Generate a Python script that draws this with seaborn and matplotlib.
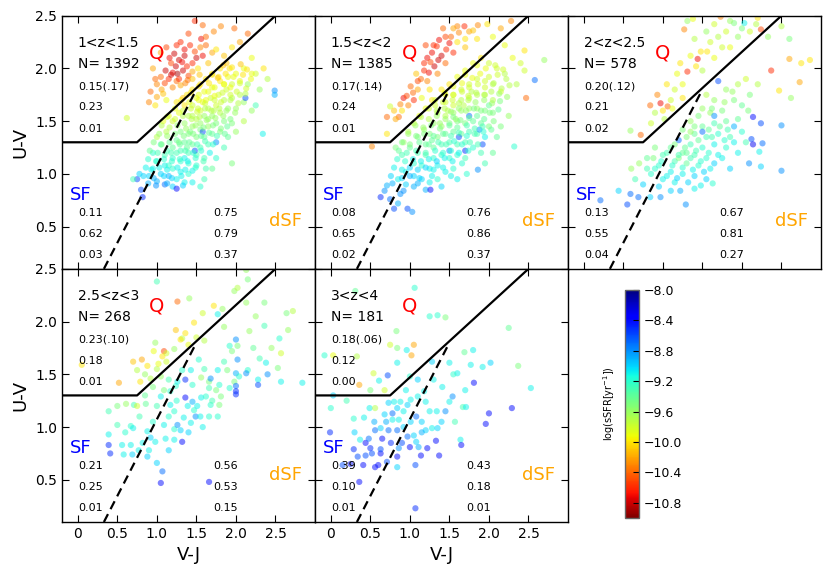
import matplotlib
matplotlib.use("Agg")
import matplotlib.pyplot as plt
import numpy as np
import pandas as pd
import seaborn as sns

# ---------------- data ----------------
PANEL_LABELS = ['1<z<1.5', '1.5<z<2', '2<z<2.5', '2.5<z<3', '3<z<4']
PANEL_N = [1392, 1385, 578, 268, 181]
Q_F1 = ['0.15(.17)', '0.17(.14)', '0.20(.12)', '0.23(.10)', '0.18(.06)']
Q_F2 = ['0.23', '0.24', '0.21', '0.18', '0.12']
Q_F3 = ['0.01', '0.01', '0.02', '0.01', '0.00']
SF_F1 = ['0.11', '0.08', '0.13', '0.21', '0.39']
SF_F2 = ['0.62', '0.65', '0.55', '0.25', '0.10']
SF_F3 = ['0.03', '0.02', '0.04', '0.01', '0.01']
DSF_F1 = ['0.75', '0.76', '0.67', '0.56', '0.43']
DSF_F2 = ['0.79', '0.86', '0.81', '0.53', '0.18']
DSF_F3 = ['0.37', '0.37', '0.27', '0.15', '0.01']

# quiescent selection boundary and dusty-SF separator (V-J, U-V vertices)
Q_BOX_VJ = [-0.2, 0.75, 2.5]
Q_BOX_UV = [1.3, 1.3, 2.5]
DSF_VJ = [0.33, 1.5]
DSF_UV = [0.1, 1.8]

X_TICKS = [0, 0.5, 1.0, 1.5, 2.0, 2.5]
X_TICKLABELS = ['0', '0.5', '1.0', '1.5', '2.0', '2.5']
Y_TICKS = [0.5, 1.0, 1.5, 2.0, 2.5]
CBAR_TICKS = [-8.0, -8.4, -8.8, -9.2, -9.6, -10.0, -10.4, -10.8]

# (V-J, U-V, log sSFR) (representative subset)
P1 = [(1.48,2.45,-10.6),(1.58,2.41,-10.4),(1.81,2.40,-10.3),(1.98,2.38,-10.4),(2.15,2.33,-10.4),(1.72,2.35,-10.3),
(1.40,2.33,-10.5),(1.56,2.28,-10.7),(1.30,2.25,-10.6),(1.62,2.22,-10.4),(1.22,2.14,-10.8),(1.35,2.18,-10.7),
(1.50,2.10,-10.8),(1.58,2.12,-10.7),(1.45,2.05,-10.6),(1.28,2.08,-10.8),(1.18,2.05,-10.5),(1.11,1.98,-10.8),
(1.20,1.96,-10.7),(1.26,1.95,-10.9),(1.33,1.98,-10.8),(1.40,1.93,-10.5),(1.15,1.90,-10.6),(1.25,1.88,-10.4),
(1.39,1.89,-10.4),(1.05,1.92,-10.4),(1.30,1.84,-10.2),(1.20,1.82,-10.3),(0.92,1.78,-10.4),(1.00,1.73,-10.2),
(1.08,1.76,-10.1),(0.98,1.65,-10.0),(1.12,1.70,-9.9),(0.90,1.68,-10.3),(1.45,1.97,-10.2),(1.52,2.00,-10.0),
(1.65,2.05,-10.1),(1.70,2.15,-10.2),(1.05,2.15,-10.2),(0.95,2.00,-10.2),(1.35,2.12,-10.8),(1.42,2.22,-10.6),
(0.62,1.53,-9.8),(1.75,2.18,-10.0),(1.85,2.12,-10.1),(1.95,2.20,-10.0),(2.05,2.25,-10.2),(2.20,2.10,-9.9),
(2.35,2.00,-10.0),(2.25,1.95,-9.8),(2.10,2.00,-9.9),(2.40,1.90,-9.7),(2.15,1.85,-9.6),(2.30,1.80,-9.6),
(1.45,1.80,-10.0),(1.55,1.85,-10.0),(1.62,1.90,-10.0),(1.70,1.95,-10.0),(1.80,2.00,-10.0),(1.88,2.05,-10.1),
(1.60,1.78,-9.9),(1.70,1.82,-9.9),(1.80,1.88,-10.0),(1.90,1.92,-9.9),(2.00,1.95,-9.9),(1.50,1.72,-9.9),
(1.58,1.68,-9.9),(1.68,1.72,-9.8),(1.78,1.75,-9.8),(1.88,1.80,-9.8),(1.95,1.85,-9.8),(2.05,1.88,-9.9),
(1.45,1.65,-9.8),(1.55,1.60,-9.8),(1.65,1.62,-9.7),(1.75,1.65,-9.8),(1.85,1.70,-9.7),(1.95,1.72,-9.7),
(2.05,1.75,-9.7),(1.40,1.55,-9.7),(1.50,1.52,-9.7),(1.60,1.55,-9.6),(1.70,1.55,-9.6),(1.80,1.58,-9.7),
(1.90,1.62,-9.6),(2.00,1.62,-9.6),(2.10,1.68,-9.6),(1.35,1.48,-9.6),(1.45,1.45,-9.6),(1.55,1.42,-9.5),
(1.65,1.45,-9.6),(1.75,1.48,-9.5),(1.85,1.50,-9.5),(1.95,1.48,-9.5),(1.30,1.40,-9.5),(1.40,1.38,-9.5),
(1.50,1.35,-9.5),(1.60,1.35,-9.4),(1.70,1.38,-9.4),(1.80,1.40,-9.5),(1.25,1.32,-9.4),(1.35,1.30,-9.4),
(1.45,1.28,-9.4),(1.55,1.25,-9.3),(1.65,1.28,-9.3),(1.20,1.25,-9.4),(1.30,1.22,-9.3),(1.40,1.20,-9.3),
(1.50,1.18,-9.3),(1.60,1.15,-9.3),(1.10,1.18,-9.3),(1.20,1.15,-9.2),(1.30,1.12,-9.2),(1.40,1.10,-9.2),
(1.50,1.08,-9.2),(1.00,1.12,-9.2),(1.10,1.08,-9.1),(1.20,1.05,-9.2),(1.30,1.02,-9.1),(1.40,1.00,-9.2),
(0.95,1.05,-9.1),(1.05,1.00,-9.0),(1.15,0.98,-8.9),(1.25,0.95,-9.1),(1.35,0.92,-9.1),(0.90,0.98,-9.0),
(1.00,0.93,-8.9),(1.10,0.90,-8.7),(1.20,0.88,-9.0),(0.75,0.95,-8.6),(0.80,0.85,-8.6),(0.82,0.78,-8.5),
(0.78,1.00,-9.0),(0.70,0.95,-9.3),(1.25,0.86,-8.4),(1.45,0.92,-9.1),(1.55,0.88,-9.2),(1.60,0.95,-9.3),
(1.70,1.05,-9.4),(1.75,1.15,-9.2),(1.85,1.25,-9.3),(1.90,1.35,-9.4),(2.00,1.40,-9.6),(2.10,1.50,-9.7),
(2.20,1.60,-9.6),(2.25,1.65,-9.3),(2.12,1.72,-8.6),(2.49,1.79,-8.8),(2.49,1.75,-8.9),(2.34,1.38,-9.1),
(1.75,1.30,-8.8),(1.58,1.40,-8.6),(1.48,1.22,-8.6),(1.62,1.05,-9.3),(1.95,1.10,-9.5),(1.05,1.28,-9.3),
(0.95,1.20,-9.2),(1.00,1.35,-9.7),(1.12,1.40,-9.7),(1.20,1.50,-9.8),(1.28,1.58,-9.9),(1.35,1.65,-10.0),
(1.38,1.75,-10.0),(1.15,1.55,-9.9),(1.08,1.50,-9.9),(1.25,1.68,-10.0),(1.33,1.72,-10.1),(2.20,1.95,-9.9),
(1.45,1.55,-9.7),(1.52,1.62,-9.8),(1.62,1.70,-9.9),(1.72,1.60,-9.7),(1.55,1.48,-9.6),(1.65,1.52,-9.6),
(1.42,1.40,-9.5),(1.38,1.25,-9.4),(1.28,1.30,-9.5),(1.18,1.20,-9.3),(1.15,1.08,-9.2),(1.35,1.15,-9.1),
(1.45,1.03,-9.1),(1.85,1.85,-9.9),(1.92,2.00,-10.0),(1.78,1.92,-10.0),
(1.84,2.03,-10.1),(1.95,2.01,-10.0),(2.06,2.04,-10.1),(2.14,1.99,-10.0),
(1.70,1.94,-10.0),(1.77,1.91,-10.1),(1.87,1.95,-10.0),(1.97,1.92,-9.9),(2.09,1.94,-10.0),(2.19,1.90,-9.9),
(1.53,1.83,-10.0),(1.66,1.86,-10.0),(1.73,1.82,-9.9),(1.85,1.85,-9.9),(1.93,1.82,-9.9),(2.05,1.86,-9.8),(2.13,1.81,-9.8),
(1.43,1.77,-10.0),(1.53,1.75,-9.9),(1.65,1.78,-9.9),(1.73,1.74,-9.9),(1.83,1.77,-9.8),(1.93,1.75,-9.8),(2.01,1.78,-9.8),(2.12,1.76,-9.7),
(1.31,1.70,-10.0),(1.41,1.68,-9.9),(1.53,1.70,-9.9),(1.61,1.67,-9.8),(1.73,1.70,-9.8),(1.81,1.68,-9.8),(1.93,1.70,-9.7),(2.03,1.67,-9.7),
(1.23,1.62,-9.9),(1.33,1.60,-9.8),(1.43,1.62,-9.8),(1.51,1.59,-9.8),(1.61,1.62,-9.7),(1.69,1.60,-9.7),(1.79,1.62,-9.7),(1.88,1.60,-9.6),(1.99,1.58,-9.6),
(1.13,1.54,-9.8),(1.23,1.52,-9.8),(1.33,1.55,-9.7),(1.44,1.52,-9.7),(1.54,1.54,-9.7),(1.63,1.51,-9.6),(1.74,1.53,-9.6),(1.84,1.55,-9.6),(1.93,1.52,-9.5),
(1.06,1.46,-9.7),(1.16,1.44,-9.7),(1.26,1.46,-9.6),(1.37,1.43,-9.6),(1.49,1.46,-9.6),(1.59,1.44,-9.5),(1.71,1.46,-9.5),(1.81,1.43,-9.5),(1.89,1.45,-9.4),
(1.03,1.38,-9.6),(1.13,1.36,-9.6),(1.23,1.38,-9.5),(1.34,1.36,-9.5),(1.46,1.38,-9.5),(1.56,1.36,-9.4),(1.66,1.39,-9.4),(1.76,1.36,-9.3),(1.86,1.38,-9.4),
(0.96,1.30,-9.5),(1.06,1.28,-9.5),(1.16,1.30,-9.4),(1.29,1.28,-9.4),(1.41,1.30,-9.4),(1.51,1.28,-9.3),(1.61,1.31,-9.3),(1.71,1.28,-9.2),
(0.91,1.22,-9.4),(1.01,1.20,-9.3),(1.13,1.22,-9.3),(1.25,1.20,-9.3),(1.36,1.22,-9.3),(1.46,1.20,-9.2),(1.56,1.22,-9.2),(1.67,1.20,-9.1),
(0.89,1.14,-9.2),(0.99,1.12,-9.2),(1.09,1.14,-9.2),(1.19,1.12,-9.2),(1.29,1.14,-9.2),(1.39,1.12,-9.1),(1.49,1.15,-9.2),(1.59,1.12,-9.3),
(0.86,1.06,-9.1),(0.93,1.04,-9.1),(1.03,1.06,-9.1),(1.13,1.04,-9.1),(1.26,1.06,-9.1),(1.36,1.04,-9.1),(1.49,1.06,-9.2),
(0.83,0.98,-9.0),(0.96,0.96,-8.9),(1.09,0.98,-9.0),(1.19,0.96,-9.0),(1.31,0.98,-9.1),
(0.89,0.91,-8.9),(0.99,0.89,-8.8),(1.13,0.91,-8.9),(1.33,0.89,-9.0),
(1.16,2.10,-10.7),(1.24,2.02,-10.8),(1.32,2.06,-10.7),(1.38,2.02,-10.6),(1.10,1.86,-10.5),(1.18,1.94,-10.8),
(1.28,1.90,-10.6),(1.36,1.86,-10.3),(1.00,1.85,-10.3),(1.06,1.80,-10.2),(1.48,2.16,-10.5),(1.55,2.20,-10.3),
(1.62,2.30,-10.4),(1.25,2.22,-10.6),(1.12,2.20,-10.5),(0.98,1.90,-10.4),(1.45,1.90,-10.1),(1.54,1.94,-10.1)]

P2 = [(1.60,2.40,-10.3),(1.69,2.40,-10.6),(1.86,2.41,-10.3),(1.98,2.42,-10.0),(2.28,2.45,-10.3),(2.15,2.38,-10.2),
(1.75,2.35,-10.2),(1.37,2.27,-10.7),(1.34,2.21,-10.6),(1.50,2.24,-10.7),(1.45,2.30,-10.5),(1.55,2.15,-10.6),
(1.40,2.12,-10.8),(1.22,2.10,-10.7),(1.31,2.02,-10.8),(1.18,1.98,-10.6),(1.26,2.06,-10.5),(1.45,2.05,-10.4),
(1.14,1.90,-10.4),(1.22,1.88,-10.3),(1.35,1.95,-10.3),(1.01,1.83,-10.4),(1.10,1.80,-10.2),(0.92,1.72,-10.7),
(1.05,1.70,-10.6),(0.98,1.65,-10.3),(0.75,1.64,-9.8),(0.71,1.54,-10.4),(0.86,1.54,-10.4),(0.80,1.60,-10.1),
(0.90,1.60,-10.0),(0.71,1.38,-10.0),(0.52,1.26,-10.3),(1.60,2.25,-10.0),(1.70,2.20,-10.1),(1.85,2.28,-10.0),
(2.05,2.30,-9.9),(1.25,1.80,-10.0),(1.15,1.72,-9.9),(1.08,1.95,-10.1),(2.45,2.17,-10.0),(2.47,1.72,-10.4),
(2.70,2.08,-9.6),(2.58,1.89,-8.7),(2.40,2.05,-9.8),(2.30,2.10,-9.9),
(1.40,1.80,-10.0),(1.50,1.85,-10.0),(1.60,1.92,-9.9),(1.70,1.98,-9.9),(1.80,2.05,-9.9),(1.90,2.10,-10.0),
(2.00,2.05,-9.8),(2.10,2.00,-9.8),(2.20,1.95,-9.7),(1.55,1.75,-9.9),(1.65,1.80,-9.8),(1.75,1.85,-9.8),
(1.85,1.90,-9.8),(1.95,1.88,-9.8),(2.05,1.85,-9.7),(1.45,1.68,-9.8),(1.55,1.65,-9.8),(1.65,1.70,-9.7),
(1.75,1.72,-9.7),(1.85,1.75,-9.7),(1.95,1.75,-9.7),(2.05,1.70,-9.7),(2.15,1.78,-9.8),(1.35,1.58,-9.7),
(1.45,1.55,-9.7),(1.55,1.58,-9.6),(1.65,1.60,-9.6),(1.75,1.62,-9.6),(1.85,1.62,-9.6),(1.95,1.60,-9.5),
(2.05,1.58,-9.5),(1.30,1.48,-9.6),(1.40,1.45,-9.6),(1.50,1.48,-9.5),(1.60,1.50,-9.5),(1.70,1.48,-9.5),
(1.80,1.50,-9.4),(1.90,1.48,-9.4),(2.00,1.45,-9.5),(1.25,1.38,-9.5),(1.35,1.35,-9.5),(1.45,1.38,-9.4),
(1.55,1.40,-9.4),(1.65,1.38,-9.4),(1.75,1.40,-9.3),(1.85,1.38,-9.3),(1.95,1.35,-9.1),(1.20,1.28,-9.4),
(1.30,1.25,-9.4),(1.40,1.28,-9.3),(1.50,1.30,-9.3),(1.60,1.28,-9.3),(1.70,1.30,-9.3),(1.80,1.25,-9.2),
(1.90,1.20,-9.3),(1.10,1.20,-9.3),(1.20,1.18,-9.3),(1.30,1.15,-9.2),(1.40,1.18,-9.2),(1.50,1.15,-9.2),
(1.60,1.18,-9.2),(1.70,1.15,-9.3),(1.05,1.10,-9.2),(1.15,1.08,-9.2),(1.25,1.05,-9.1),(1.35,1.08,-9.1),
(1.45,1.02,-9.1),(1.55,1.05,-9.2),(0.95,1.02,-9.1),(1.05,0.98,-9.0),(1.15,0.95,-9.0),(1.25,0.92,-9.1),
(1.35,0.95,-9.2),(0.85,0.95,-9.1),(0.95,0.90,-9.0),(1.05,0.88,-8.9),(1.20,0.85,-8.9),(0.88,0.81,-8.8),
(0.71,0.89,-8.9),(0.63,0.78,-8.5),(0.80,0.67,-8.6),(0.97,0.67,-8.6),(1.03,0.64,-8.8),(0.85,0.72,-8.9),
(1.26,0.85,-8.4),(1.40,0.88,-9.0),(1.60,0.95,-9.1),(1.72,1.00,-9.2),(1.86,1.04,-8.8),(1.95,1.10,-9.3),
(2.05,1.20,-9.4),(2.10,1.35,-9.4),(2.15,1.45,-9.5),(2.25,1.55,-9.6),(2.32,1.26,-9.2),(1.75,1.55,-8.7),
(1.88,1.42,-8.8),(1.62,1.35,-8.6),(1.70,1.22,-8.5),(1.50,1.22,-8.8),(1.92,1.28,-8.6),(2.00,1.65,-9.4),
(0.92,1.30,-9.6),(0.98,1.40,-9.7),(1.05,1.48,-9.8),(1.12,1.55,-9.9),(1.20,1.62,-9.9),(1.28,1.70,-10.0),
(0.82,1.25,-9.5),(0.90,1.18,-9.3),(1.00,1.25,-9.4),(1.10,1.35,-9.5),(1.18,1.42,-9.6),(1.32,1.65,-9.8),
(1.45,1.75,-9.9),(2.35,1.85,-9.7),(2.45,1.98,-9.8),(2.20,2.22,-9.9),(1.58,1.52,-9.6),(1.68,1.65,-9.7),
(1.78,1.78,-9.7),(1.48,1.60,-9.7),(1.38,1.48,-9.6),(1.28,1.32,-9.4),
(1.85,2.03,-9.9),(1.96,2.00,-9.9),(2.08,2.03,-9.8),(2.18,1.99,-9.8),
(1.70,1.94,-9.9),(1.79,1.91,-9.9),(1.89,1.95,-9.9),(2.00,1.92,-9.8),(2.11,1.94,-9.8),(2.22,1.90,-9.7),
(1.55,1.83,-9.9),(1.66,1.86,-9.9),(1.75,1.82,-9.8),(1.86,1.85,-9.8),(1.95,1.82,-9.8),(2.06,1.86,-9.7),(2.16,1.81,-9.7),(2.26,1.84,-9.7),
(1.44,1.77,-9.9),(1.55,1.75,-9.8),(1.66,1.78,-9.8),(1.74,1.74,-9.8),(1.84,1.77,-9.7),(1.94,1.75,-9.7),(2.03,1.78,-9.7),(2.13,1.76,-9.6),(2.23,1.73,-9.6),
(1.32,1.70,-9.8),(1.42,1.68,-9.8),(1.54,1.70,-9.8),(1.62,1.67,-9.7),(1.74,1.70,-9.7),(1.83,1.68,-9.6),(1.94,1.70,-9.6),(2.04,1.67,-9.6),(2.14,1.69,-9.5),
(1.24,1.62,-9.8),(1.34,1.60,-9.7),(1.44,1.62,-9.7),(1.52,1.59,-9.6),(1.62,1.62,-9.6),(1.71,1.60,-9.6),(1.81,1.62,-9.5),(1.90,1.60,-9.5),(2.01,1.58,-9.5),(2.12,1.61,-9.4),
(1.14,1.54,-9.7),(1.24,1.52,-9.7),(1.34,1.55,-9.6),(1.45,1.52,-9.6),(1.55,1.54,-9.5),(1.64,1.51,-9.5),(1.75,1.53,-9.4),(1.85,1.55,-9.4),(1.94,1.52,-9.4),(2.06,1.50,-9.5),
(1.07,1.46,-9.6),(1.17,1.44,-9.6),(1.27,1.46,-9.5),(1.38,1.43,-9.5),(1.50,1.46,-9.4),(1.60,1.44,-9.4),(1.72,1.46,-9.3),(1.82,1.43,-9.3),(1.92,1.45,-9.3),(2.03,1.42,-9.4),
(0.98,1.38,-9.6),(1.08,1.36,-9.5),(1.18,1.38,-9.5),(1.30,1.36,-9.4),(1.42,1.38,-9.4),(1.52,1.36,-9.3),(1.62,1.39,-9.3),(1.72,1.36,-9.2),(1.82,1.38,-9.3),(1.93,1.40,-9.2),
(0.90,1.30,-9.5),(1.00,1.28,-9.5),(1.12,1.30,-9.4),(1.24,1.28,-9.4),(1.36,1.30,-9.3),(1.46,1.28,-9.3),(1.56,1.31,-9.2),(1.66,1.28,-9.2),(1.76,1.30,-9.3),(1.86,1.28,-9.3),
(0.86,1.22,-9.4),(0.96,1.20,-9.3),(1.08,1.22,-9.3),(1.20,1.20,-9.3),(1.32,1.22,-9.2),(1.42,1.20,-9.2),(1.52,1.22,-9.2),(1.62,1.20,-9.1),(1.74,1.22,-9.2),
(0.84,1.14,-9.2),(0.94,1.12,-9.2),(1.04,1.14,-9.1),(1.14,1.12,-9.1),(1.24,1.14,-9.1),(1.34,1.12,-9.0),(1.44,1.15,-9.1),(1.54,1.12,-9.1),(1.66,1.10,-9.2),
(0.80,1.06,-9.1),(0.90,1.04,-9.1),(1.00,1.06,-9.0),(1.10,1.04,-9.0),(1.20,1.06,-9.0),(1.30,1.04,-9.1),(1.42,1.06,-9.1),(1.52,0.98,-9.1),
(0.76,0.98,-9.0),(0.90,0.96,-9.0),(1.00,0.98,-8.9),(1.12,0.96,-9.0),(1.28,0.98,-9.1),
(0.78,0.91,-8.9),(0.92,0.84,-8.8),(1.10,0.91,-8.9),(0.68,0.84,-8.8),(0.75,0.76,-8.7),
(1.28,2.15,-10.7),(1.36,2.08,-10.8),(1.46,2.18,-10.6),(1.52,2.30,-10.4),(1.62,2.34,-10.3),(1.18,2.05,-10.6),
(1.24,1.96,-10.7),(1.10,1.88,-10.5),(1.04,1.77,-10.4),(0.96,1.74,-10.5),(0.88,1.66,-10.3),(0.82,1.52,-10.2),
(1.30,2.22,-10.6),(1.42,2.38,-10.4),(1.55,2.38,-10.2),(1.20,2.22,-10.5),(1.70,2.28,-10.0),(1.80,2.36,-10.1)]

P3 = [(1.31,2.45,-9.6),(1.38,2.47,-9.9),(1.73,2.49,-10.3),(1.90,2.43,-9.5),(2.03,2.43,-9.1),(2.20,2.48,-10.0),
(2.24,2.37,-10.5),(2.33,2.30,-9.6),(2.50,2.40,-9.7),(2.60,2.28,-9.5),(2.60,2.09,-10.2),(2.75,2.05,-10.0),
(2.86,2.08,-10.0),(2.73,1.87,-10.2),(2.37,1.98,-10.6),(2.47,1.79,-10.0),(2.62,1.72,-9.6),(2.50,1.46,-8.8),
(2.24,1.48,-8.6),(2.14,1.54,-8.4),(2.12,1.33,-8.6),(2.14,1.28,-8.3),(2.26,1.29,-8.7),(2.22,1.21,-9.1),
(2.24,1.07,-9.0),(2.50,1.03,-8.8),(2.09,1.10,-8.8),
(1.27,2.37,-10.3),(1.48,2.16,-10.0),(1.56,2.16,-10.0),(1.44,2.09,-10.7),(1.31,1.97,-10.6),(1.42,2.02,-10.0),
(1.50,1.98,-9.7),(1.60,2.25,-9.8),(1.70,2.30,-9.7),(1.80,2.35,-9.8),(1.95,2.30,-9.6),(2.10,2.35,-9.8),
(1.85,2.20,-9.9),(0.93,1.75,-10.3),(0.97,1.67,-10.7),(1.06,1.64,-10.4),(0.84,1.65,-10.4),(1.00,1.60,-10.0),
(0.72,1.37,-10.4),(0.59,1.41,-9.6),(0.90,1.58,-9.7),(1.15,1.80,-9.8),(1.25,1.85,-9.9),(1.10,1.70,-9.8),
(1.70,1.88,-8.6),(1.55,1.75,-9.7),(1.65,1.70,-9.6),(1.80,1.80,-9.6),(1.95,1.85,-9.7),(2.05,1.90,-9.8),
(1.90,1.70,-9.5),(2.00,1.65,-9.4),(1.75,1.60,-9.5),(1.60,1.58,-9.6),(1.45,1.55,-9.5),(1.35,1.50,-9.6),
(1.50,1.45,-9.4),(1.65,1.48,-9.3),(1.80,1.50,-9.4),(1.90,1.45,-8.9),(2.00,1.40,-9.2),(1.25,1.42,-9.5),
(1.40,1.38,-9.4),(1.55,1.35,-9.3),(1.70,1.38,-9.2),(1.85,1.35,-9.3),(1.20,1.32,-8.7),(1.35,1.28,-9.3),
(1.50,1.25,-9.2),(1.65,1.28,-9.1),(1.80,1.25,-9.2),(1.10,1.25,-9.4),(1.25,1.20,-9.4),(1.40,1.18,-9.3),
(1.55,1.15,-9.2),(1.70,1.18,-9.1),(1.00,1.18,-9.3),(1.15,1.12,-9.3),(1.30,1.10,-9.4),(1.45,1.08,-9.2),
(1.60,1.05,-9.1),(0.95,1.08,-9.2),(1.10,1.02,-9.1),(1.25,1.00,-9.1),(1.40,0.98,-9.0),(1.55,0.95,-9.0),
(0.85,1.00,-9.2),(1.00,0.95,-9.1),(1.15,0.92,-9.1),(0.80,1.15,-9.4),(0.90,1.25,-9.5),(1.20,1.15,-9.5),
(1.30,1.20,-9.4),
(0.21,0.75,-8.7),(0.44,0.84,-9.0),(0.55,0.71,-8.6),(0.59,0.81,-8.7),(0.69,0.78,-8.7),(0.84,0.78,-9.0),
(0.97,0.78,-8.8),(1.29,0.71,-8.8),(1.10,0.84,-9.0),(1.48,0.89,-9.1),(1.63,0.91,-9.2),(0.75,0.90,-9.0),
(0.65,0.95,-9.3),(0.60,1.05,-9.6),
(1.05,1.85,-10.0),(1.18,1.95,-9.9),(1.35,2.12,-9.9),(1.22,2.05,-10.0),(1.12,1.62,-9.9),(1.02,1.52,-9.7),
(0.85,1.48,-9.8),(1.40,2.28,-9.7),(1.55,2.35,-9.6),(1.65,2.42,-9.8),(1.85,2.45,-9.6),(2.00,2.38,-9.5),
(2.18,2.42,-9.7),(1.75,2.20,-9.8),(1.65,2.10,-9.9),(1.25,1.72,-10.0),
(1.50,1.62,-9.6),(1.62,1.62,-9.5),(1.78,1.68,-9.6),(1.88,1.78,-9.6),(2.10,1.75,-9.5),(2.20,1.85,-9.7),
(1.40,1.45,-9.5),(1.58,1.42,-9.4),(1.72,1.45,-9.4),(1.82,1.42,-9.3),(1.95,1.52,-9.4),(2.08,1.60,-9.5),
(1.30,1.35,-9.5),(1.45,1.32,-9.4),(1.62,1.35,-9.3),(1.78,1.32,-9.2),(1.90,1.30,-9.1),(1.15,1.28,-9.5),
(1.28,1.25,-9.4),(1.42,1.22,-9.3),(1.58,1.20,-9.2),(1.75,1.15,-9.1),(1.05,1.20,-9.3),(1.20,1.18,-9.3),
(1.35,1.15,-9.3),(1.48,1.12,-9.2),(1.65,1.10,-9.0),(0.98,1.12,-9.2),(1.12,1.08,-9.2),(1.25,1.06,-9.2),
(1.38,1.04,-9.1),(1.52,1.02,-9.0),(0.90,1.05,-9.2),(1.05,0.98,-9.1),(1.18,0.96,-9.0),(1.32,0.92,-9.0),
(0.80,1.05,-9.3),(0.95,0.88,-9.0),(1.22,0.84,-8.9),(1.40,0.86,-9.1),(1.85,1.05,-9.0),(1.95,1.20,-9.1),
(2.05,1.30,-9.3),(1.50,1.40,-8.7),(1.65,1.55,-8.8),(1.35,1.40,-9.6),(0.70,1.10,-9.6),(0.88,1.15,-9.5)]

P4 = [(1.00,2.38,-9.3),(1.26,2.19,-10.4),(1.41,2.22,-9.6),(1.58,2.08,-9.8),(1.72,2.15,-10.0),(1.77,2.07,-9.1),
(1.83,2.12,-9.6),(1.98,2.29,-9.6),(2.02,2.32,-9.7),(2.15,2.40,-9.5),(2.13,2.49,-9.6),(2.13,2.18,-9.6),
(2.36,2.18,-9.5),(2.64,2.08,-9.5),(2.72,2.10,-9.7),(2.66,1.92,-9.6),(2.36,1.96,-9.3),(2.17,1.91,-9.6),
(2.00,1.83,-8.8),(2.02,1.77,-9.5),(1.92,1.77,-9.2),(1.24,1.92,-10.1),(1.36,1.89,-10.0),(1.32,1.84,-9.7),
(1.30,1.83,-10.0),(1.47,1.99,-10.0),(1.09,1.72,-10.5),(0.96,1.72,-9.9),(0.98,1.80,-9.6),(1.22,1.74,-9.6),
(1.07,1.67,-10.0),(0.81,1.64,-10.2),(0.88,1.58,-10.0),(0.75,1.54,-9.7),(0.85,1.50,-9.6),(0.79,1.43,-10.0),
(0.92,1.46,-9.7),(0.52,1.42,-10.2),(0.05,1.59,-10.0),(1.00,1.55,-9.7),(1.12,1.62,-9.8),(1.40,1.78,-9.9),
(1.50,1.85,-9.8),(1.05,1.48,-9.6),
(0.39,1.15,-9.3),(0.50,1.20,-9.5),(0.61,1.22,-9.6),(0.71,1.21,-9.3),(0.75,1.20,-9.8),(0.67,1.01,-9.2),
(0.70,0.99,-9.1),(0.78,1.10,-9.3),(0.88,0.96,-9.1),(0.39,0.93,-9.1),(0.39,0.83,-8.5),(0.41,0.75,-8.5),
(0.56,0.83,-9.1),(0.58,0.74,-9.1),(0.67,0.83,-9.1),(0.69,0.74,-9.0),(0.77,0.78,-9.1),(0.88,0.72,-9.0),
(0.90,0.78,-9.1),(0.98,0.86,-9.1),(1.00,0.66,-9.0),(1.07,0.58,-8.7),(1.05,0.47,-8.4),(1.66,0.48,-8.4),
(1.09,1.02,-9.1),(1.11,0.89,-9.1),(1.22,0.88,-9.1),(1.22,0.98,-9.2),(1.32,0.86,-8.4),(1.26,1.02,-8.8),
(1.30,0.97,-9.0),(1.34,1.09,-9.1),(1.49,1.10,-8.8),(1.47,1.16,-9.2),(1.22,1.15,-9.2),(1.17,1.21,-9.1),
(1.05,1.29,-9.1),(1.09,1.35,-9.5),(1.17,1.34,-9.2),(1.24,1.39,-9.2),(1.26,1.43,-9.1),(1.36,1.45,-8.5),
(1.32,1.54,-9.2),(1.43,1.54,-9.1),(1.53,1.64,-9.2),(1.56,1.47,-9.6),(1.66,1.43,-9.5),(1.68,1.46,-8.8),
(1.77,1.54,-9.1),(1.89,1.54,-9.5),(2.02,1.64,-8.8),(2.00,1.51,-8.9),(1.98,1.43,-9.5),(2.00,1.39,-8.7),
(2.00,1.34,-8.5),(2.00,1.31,-8.5),(1.92,1.37,-9.2),(1.79,1.40,-9.2),(1.75,1.35,-9.5),(1.66,1.37,-9.3),
(1.56,1.28,-9.1),(1.45,1.24,-8.9),(1.36,1.28,-8.4),(1.39,1.20,-9.1),(1.51,1.20,-9.1),(1.62,1.29,-9.2),
(1.79,1.21,-9.5),(1.68,1.21,-9.2),(2.15,1.54,-9.2),(2.13,1.51,-8.8),(2.28,1.45,-9.1),(2.40,1.50,-8.8),
(2.53,1.56,-9.5),(2.57,1.43,-9.1),(2.38,1.61,-9.1),(2.55,1.84,-9.2),(2.57,1.70,-9.8),(2.84,1.42,-9.1),
(2.28,1.40,-8.6),(2.04,1.48,-9.2),(1.81,1.29,-9.5),(1.77,1.10,-9.2),(1.55,1.10,-9.1),(1.66,1.10,-9.2),
(1.43,1.04,-9.1),(1.15,1.10,-9.2),(0.95,1.05,-9.2),(1.00,1.20,-9.3),(0.86,1.22,-9.4),(0.92,0.90,-9.0),
(1.15,1.45,-9.3),(1.45,1.40,-9.2),(1.60,1.55,-9.3),(1.85,1.62,-9.3),(1.95,1.72,-9.5),(2.22,1.75,-9.4),
(2.45,1.75,-9.6),(2.30,1.65,-9.3),(1.40,0.95,-9.0),(1.58,1.00,-9.1),(1.70,1.25,-9.3),(0.60,0.95,-9.2),
(0.50,1.02,-9.3),(0.82,0.85,-9.1),(1.15,0.78,-9.0),(1.25,1.25,-9.2),(1.12,1.70,-9.8),(1.02,1.60,-9.9),
(0.70,1.62,-10.1),(1.60,1.82,-9.7),(1.85,1.95,-9.6),(2.25,2.05,-9.6),(0.85,1.30,-9.4),(0.95,1.38,-9.5)]

P5 = [(1.06,2.32,-9.2),(0.31,2.29,-9.4),(1.25,2.05,-9.2),(1.35,2.06,-9.2),(1.45,2.04,-9.5),(0.83,1.91,-9.5),
(1.05,1.78,-10.2),(1.02,1.68,-10.2),(0.96,1.73,-9.1),(0.75,1.78,-9.8),(0.84,1.75,-9.5),(0.84,1.61,-9.1),
(-0.08,1.68,-9.2),(0.03,1.68,-9.9),(0.33,1.67,-9.7),(0.54,1.51,-9.8),(0.72,1.49,-8.6),(0.61,1.44,-9.1),
(0.36,1.40,-10.2),(0.68,1.35,-9.8),(0.03,1.30,-9.0),(0.00,1.18,-9.2),(0.29,1.08,-9.2),(0.42,1.09,-9.1),
(0.49,1.18,-9.1),(0.56,1.18,-9.7),(-0.01,0.95,-8.5),(0.37,0.88,-9.1),(0.44,0.85,-8.4),(0.48,0.89,-8.7),
(0.56,0.97,-8.7),(0.63,0.99,-9.0),(0.65,0.89,-8.4),(0.73,0.97,-8.7),(0.84,0.97,-8.7),(0.78,1.07,-9.1),
(0.86,1.07,-9.1),(0.78,1.13,-8.7),(0.84,1.18,-9.0),(0.92,1.15,-9.1),(0.97,1.21,-9.0),(0.88,1.24,-9.1),
(0.80,1.24,-9.1),(0.73,1.23,-9.0),(1.01,1.26,-9.1),(1.10,1.29,-9.1),(1.18,1.34,-9.1),(1.20,1.24,-9.1),
(1.08,1.10,-8.7),(1.01,1.05,-9.0),(0.92,1.00,-9.0),(0.97,0.91,-8.7),(1.05,0.92,-9.0),(1.08,0.86,-9.0),
(1.00,0.81,-8.4),(1.11,0.81,-8.9),(1.22,0.80,-8.4),(1.33,0.87,-8.4),(1.37,0.73,-8.4),(1.20,0.97,-9.0),
(1.28,0.99,-9.1),(1.35,0.99,-9.0),(1.25,1.15,-9.1),(1.34,1.15,-9.1),(1.45,1.15,-8.8),(1.50,1.24,-9.1),
(1.54,1.29,-8.8),(1.41,1.38,-9.1),(1.50,1.61,-9.1),(1.28,1.62,-9.0),(1.60,1.51,-9.1),(1.69,1.71,-9.4),
(1.80,1.73,-9.1),(1.77,1.59,-9.1),(1.81,1.42,-8.4),(1.92,1.57,-9.1),(2.02,1.61,-9.0),(1.67,1.19,-9.3),
(1.71,1.19,-9.1),(1.57,1.05,-9.3),(1.64,0.88,-9.1),(1.65,0.83,-8.4),(1.96,1.03,-8.4),(2.00,1.13,-8.4),
(2.29,1.18,-8.4),(2.37,1.58,-9.5),(2.53,1.37,-9.1),(2.25,1.94,-9.4),(1.07,0.23,-8.5),(0.36,0.48,-8.4),
(0.15,0.64,-8.6),(0.25,0.65,-8.4),(0.44,0.73,-8.6),(0.52,0.75,-8.6),(0.56,0.62,-8.4),(0.60,0.64,-8.4),
(0.63,0.75,-8.4),(0.71,0.67,-8.6),(0.84,0.62,-9.0),(0.84,0.72,-8.4),(0.86,0.80,-8.8),(0.63,0.79,-8.6),
(0.41,0.64,-8.4),(0.29,0.79,-8.5),(0.34,0.72,-8.6),(1.07,0.64,-8.6),(1.14,0.73,-8.4),(1.15,1.05,-9.0),
(0.70,1.05,-8.9),(0.95,1.35,-9.1),(1.10,1.45,-9.0),(1.30,1.45,-9.1),
(0.55,1.05,-8.9),(0.68,1.12,-9.0),(0.90,0.85,-8.6),(1.15,0.95,-8.9),(1.40,1.05,-9.0),(0.50,0.80,-8.5),
(0.30,0.95,-9.0),(0.76,0.85,-8.5),(1.55,1.50,-9.2),(1.70,1.35,-9.1),(1.00,1.48,-9.2),(0.50,1.35,-9.5),
(0.20,1.25,-9.3)]

PANELS = [P1, P2, P3, P4, P5]

# ---------------- style ----------------
plt.rcParams['font.family'] = ['DejaVu Sans']
plt.rcParams['xtick.direction'] = 'in'
plt.rcParams['ytick.direction'] = 'in'
plt.rcParams['xtick.top'] = True
plt.rcParams['ytick.right'] = True

CMAP = 'jet_r'
VMIN, VMAX = -11.0, -8.0

fig = plt.figure(figsize=(8.3, 5.75), dpi=100)
gs = fig.add_gridspec(2, 3, left=62/830, right=821/830, top=1-15.7/575, bottom=1-522/575,
                      wspace=0, hspace=0)

for i, pts in enumerate(PANELS):
    r, c = divmod(i, 3)
    ax = fig.add_subplot(gs[r, c])
    df = pd.DataFrame(pts, columns=['VJ', 'UV', 'ssfr'])
    sns.scatterplot(data=df, x='VJ', y='UV', hue='ssfr', palette=CMAP, hue_norm=(VMIN, VMAX),
                    s=20, alpha=0.5, linewidth=0, legend=False, ax=ax, zorder=2)
    ax.plot(Q_BOX_VJ, Q_BOX_UV, color='black', lw=1.6, zorder=3)
    ax.plot(DSF_VJ, DSF_UV, color='black', lw=1.6, ls=(0, (4, 2.5)), zorder=3)
    ax.set_xlim(-0.2, 3.0)
    ax.set_ylim(0.1, 2.5)
    ax.set_xticks(X_TICKS)
    ax.set_yticks(Y_TICKS)
    ax.tick_params(length=5, width=0.8, labelsize=10, colors='black')
    for sp in ax.spines.values():
        sp.set_linewidth(1.0)
        sp.set_color('black')
    ax.set_xlabel('')
    ax.set_ylabel('')
    if c == 0:
        ax.set_ylabel('U-V', fontsize=13)
    else:
        ax.set_yticklabels([])
    if r == 1:
        ax.set_xticklabels(X_TICKLABELS)
        ax.set_xlabel('V-J', fontsize=13)
    else:
        ax.set_xticklabels([])

    # annotations
    ax.text(0.0, 2.24, PANEL_LABELS[i], fontsize=10, ha='left', va='center')
    ax.text(0.0, 2.04, 'N= %d' % PANEL_N[i], fontsize=10, ha='left', va='center')
    ax.text(0.0, 1.833, Q_F1[i], fontsize=8, ha='left', va='center')
    ax.text(0.0, 1.63, Q_F2[i], fontsize=8, ha='left', va='center')
    ax.text(0.0, 1.43, Q_F3[i], fontsize=8, ha='left', va='center')
    ax.text(0.9, 2.15, 'Q', fontsize=14, color='red', ha='left', va='center')
    ax.text(-0.1, 0.80, 'SF', fontsize=13, color='blue', ha='left', va='center')
    ax.text(0.0, 0.632, SF_F1[i], fontsize=8, ha='left', va='center')
    ax.text(0.0, 0.435, SF_F2[i], fontsize=8, ha='left', va='center')
    ax.text(0.0, 0.232, SF_F3[i], fontsize=8, ha='left', va='center')
    ax.text(1.71, 0.632, DSF_F1[i], fontsize=8, ha='left', va='center')
    ax.text(1.71, 0.435, DSF_F2[i], fontsize=8, ha='left', va='center')
    ax.text(1.71, 0.232, DSF_F3[i], fontsize=8, ha='left', va='center')
    ax.text(2.42, 0.55, 'dSF', fontsize=13, color='orange', ha='left', va='center')

# colour bar
cax = fig.add_axes([625/830, 1-518/575, 14/830, 228/575])
sm = plt.cm.ScalarMappable(cmap=CMAP, norm=plt.Normalize(VMIN, VMAX))
cb = fig.colorbar(sm, cax=cax, ticks=CBAR_TICKS)
cb.ax.set_yticklabels(['\u2212%.1f' % abs(t) for t in CBAR_TICKS])
cb.ax.tick_params(direction='in', length=4, width=0.8, labelsize=9, right=True, left=False)
cb.outline.set_edgecolor('#666666')
cb.outline.set_linewidth(1.0)
cb.set_label(r'log(sSFR[yr$^{-1}$])', fontsize=7, labelpad=6)
cb.ax.yaxis.set_label_position('left')

fig.savefig('out.png', dpi=100)
